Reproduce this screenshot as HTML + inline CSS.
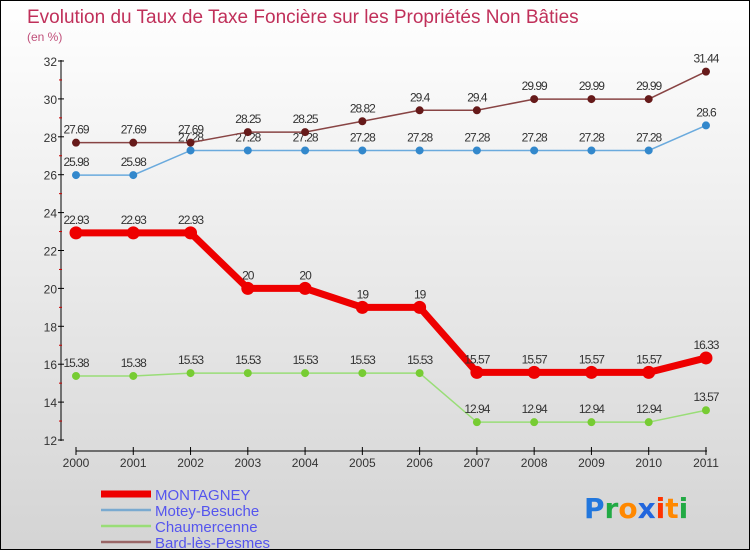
<!DOCTYPE html>
<html><head><meta charset="utf-8"><style>
body{margin:0}
#c{width:748px;height:548px;border:1px solid #000;background:linear-gradient(#fff,#d4d4d4);position:relative;font-family:"Liberation Sans",sans-serif}
</style></head><body>
<div id="c">
<svg id="s" width="748" height="548"></svg>
</div>
<script>
const years=["2000","2001","2002","2003","2004","2005","2006","2007","2008","2009","2010","2011"];
const montagney=[22.93,22.93,22.93,20,20,19,19,15.57,15.57,15.57,15.57,16.33];
const motey=[25.98,25.98,27.28,27.28,27.28,27.28,27.28,27.28,27.28,27.28,27.28,28.6];
const chaum=[15.38,15.38,15.53,15.53,15.53,15.53,15.53,12.94,12.94,12.94,12.94,13.57];
const bard=[27.69,27.69,27.69,28.25,28.25,28.82,29.4,29.4,29.99,29.99,29.99,31.44];
const yTicks=[12,14,16,18,20,22,24,26,28,30,32];
const NS='http://www.w3.org/2000/svg',s=document.getElementById('s');
const X=i=>75+i*57.27, Y=v=>439-(v-12)*18.95;
function el(t,a,txt){const e=document.createElementNS(NS,t);for(const k in a)e.setAttribute(k,a[k]);if(txt!==undefined)e.textContent=txt;s.appendChild(e);return e;}
let e;
e=el('text',{x:26,y:22,fill:'#c0305a','font-size':19},'Evolution du Taux de Taxe Foncière sur les Propriétés Non Bâties');

e=el('text',{x:26,y:40,fill:'#c0507a','font-size':12},'(en %)');

e=el('line',{x1:60,y1:59,x2:60,y2:440,stroke:'#000'});

yTicks.forEach((v,i)=>{const y=Y(v);
e=el('line',{x1:57,y1:y,x2:63,y2:y,stroke:'#000'});
if(i<yTicks.length-1){e=el('line',{x1:58,y1:Y(v+1),x2:61,y2:Y(v+1),stroke:'#c00'});}
e=el('text',{x:56,y:y+5,'text-anchor':'end','font-size':12,fill:'#333'},v);});
e=el('line',{x1:75,y1:450,x2:706,y2:450,stroke:'#000'});

years.forEach((t,i)=>{e=el('line',{x1:X(i),y1:446,x2:X(i),y2:454,stroke:'#000'});
e=el('text',{x:X(i),y:466,'text-anchor':'middle','font-size':12,fill:'#333'},t);});
function series(d,col,w,r,name,dot){
e=el('polyline',{points:d.map((v,i)=>X(i)+','+Y(v)).join(' '),fill:'none',stroke:col,'stroke-width':w});

d.forEach((v,i)=>{e=el('circle',{cx:X(i),cy:Y(v),r:r,fill:dot,stroke:dot});
e=el('text',{x:X(i),y:Y(v)-9,'text-anchor':'middle','font-size':12,fill:'#333','letter-spacing':'-1'},String(v));});}
series(chaum,'#99dd77',1.5,3.5,'chaumercenne','#77cc33');
series(motey,'#6aaadd',1.5,3.5,'motey-besuche','#3388cc');
series(bard,'#884444',1.5,3.5,'bard-les-pesmes','#661a1a');
series(montagney,'#ee0000',7,6,'montagney','#ee0000');
const leg=[['MONTAGNEY','#ee0000',7],['Motey-Besuche','#7aaad0',2.5],['Chaumercenne','#99dd77',2.5],['Bard-lès-Pesmes','#996666',2.5]];
leg.forEach((l,i)=>{const y=493+i*16;
e=el('line',{x1:100,y1:y,x2:150,y2:y,stroke:l[1],'stroke-width':l[2]});
e=el('text',{x:154,y:y+6,'font-size':15,fill:'#5555ee'},l[0]);});
e=el('text',{x:583,y:517,'font-size':28,'font-family':'DejaVu Sans, sans-serif','font-weight':'bold'});

[['P','#2277dd'],['r','#22aa44'],['o','#ff8800'],['x','#2266dd'],['i','#ff3300'],['t','#ff8800'],['i','#22aa44']].forEach(p=>{const t=document.createElementNS(NS,'tspan');t.setAttribute('fill',p[1]);t.textContent=p[0];e.appendChild(t);});
</script>
</body></html>
